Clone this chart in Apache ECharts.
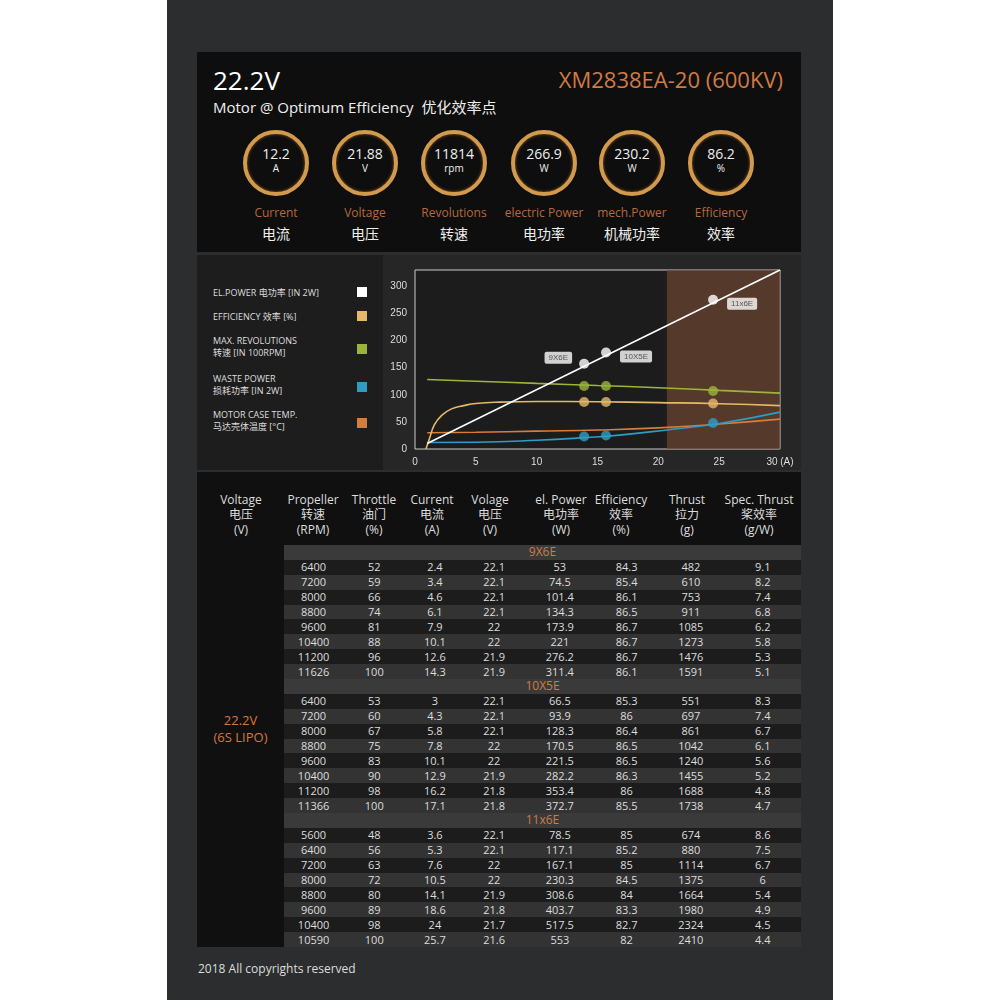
<!DOCTYPE html>
<html><head><meta charset="utf-8">
<script src="https://cdn.jsdelivr.net/npm/echarts@6/dist/echarts.min.js"></script>
<style>
body{margin:0;background:#fff;font-family:"Open Sans","Noto Sans CJK SC",sans-serif;}
#page{position:absolute;left:167px;top:0;width:666px;height:1000px;background:#2b2d2e;}
.box{position:absolute;}
#head{left:197px;top:52px;width:604px;height:200px;background:#0e0e0e;}
#legendBox{left:197px;top:255px;width:186px;height:215px;background:#1d1d1d;}
#chart{left:383px;top:255px;width:418px;height:215px;}
#tbl{left:197px;top:472px;width:604px;height:475px;background:#101010;}
.ring{position:absolute;width:58px;height:58px;border-radius:50%;border:4px solid #d39a4e;box-shadow:0 0 3px #8a5a20 inset;color:#eee;text-align:center;}
.ring .v{font-size:14px;margin-top:12px;line-height:16px}
.ring .u{font-size:10px;line-height:13px}
.lab{position:absolute;width:100px;text-align:center;}
.lab .e{color:#b8683c;font-size:12px}
.lab .c{color:#eee;font-size:14px;margin-top:2px}
.lg{position:absolute;left:16px;color:#ddd;font-size:9px;line-height:12px}
.sq{position:absolute;left:160px;width:10px;height:10px}
table{border-collapse:collapse;position:absolute;left:87px;top:73px;width:517px;font-size:11px;color:#ddd;}
td{text-align:center;height:14.9px;padding:0;line-height:14px}
.hd{position:absolute;top:20px;color:#ddd;font-size:12px;text-align:center;line-height:15px;width:80px}
</style></head><body>
<div id="page"></div>
<div class="box" id="head">
 <div style="position:absolute;left:16px;top:10px;color:#fff;font-size:26px">22.2V</div>
 <div style="position:absolute;left:16px;top:44px;color:#eee;font-size:15px">Motor @ Optimum Efficiency&nbsp; 优化效率点</div>
 <div style="position:absolute;right:18px;top:12px;color:#d07a45;font-size:22px">XM2838EA-20 (600KV)</div>
 <div id="rings"></div>
</div>
<div class="box" id="legendBox"></div>
<div class="box" id="chart"></div>
<div class="box" id="tbl">
 <div id="hdrs"></div>
 <div style="position:absolute;left:0;width:87px;top:240px;text-align:center;color:#d07a45;font-size:13px;line-height:17px">22.2V<br>(6S LIPO)</div>
 <table id="t"></table>
</div>
<div style="position:absolute;left:198px;top:960px;color:#ddd;font-size:12px">2018 All copyrights reserved</div>
<script>
// header gauges
var gaugeValues = ['12.2','21.88','11814','266.9','230.2','86.2'];
var gaugeUnits = ['A','V','rpm','W','W','%'];
var gaugeNames = ['Current','Voltage','Revolutions','electric Power','mech.Power','Efficiency'];
var gaugeNamesCn = ['电流','电压','转速','电功率','机械功率','效率'];

// chart legend
var legendNames = ['EL.POWER 电功率 [IN 2W]','EFFICIENCY 效率 [%]','MAX. REVOLUTIONS<br>转速 [IN 100RPM]','WASTE POWER<br>损耗功率 [IN 2W]','MOTOR CASE TEMP.<br>马达壳体温度 [°C]'];
var colors = ['#ffffff','#e6b96a','#9bb53a','#2f9cc3','#d97c3a'];

// curves, x = current (A)
var powerLine = [[1,10],[30,330]];
var effLine = [[0.9,0],[1.2,20],[1.6,45],[2.2,62],[3,74],[4,80],[5,84],[7,86.5],[10,87.5],[15,87],[20,85.5],[25,83.5],[30,80]];
var revLine = [[1,128],[5,125],[10,121],[15,117],[20,113],[25,108],[30,103]];
var wasteLine = [[1,12],[5,12.5],[10,16],[14,21],[17,26],[21,36],[25,47],[30,68]];
var tempLine = [[1,30],[5,31],[10,33],[15,35],[20,39],[25,46],[30,55]];
var propNames = ['9X6E','10X5E','11x6E'];
var propCurrent = [13.9,15.7,24.5];
var propPower = [157,178,275];
var propEff = [86.5,86.5,84];
var propRev = [116,116,107];
var propWaste = [23,25,48];

// table
var tblHeaders = ['Voltage<br>电压<br>(V)','Propeller<br>转速<br>(RPM)','Throttle<br>油门<br>(%)','Current<br>电流<br>(A)','Volage<br>电压<br>(V)','el. Power<br>电功率<br>(W)','Efficiency<br>效率<br>(%)','Thrust<br>拉力<br>(g)','Spec. Thrust<br>桨效率<br>(g/W)'];
var hdrX = [44,116,177,235,293,364,424,490,562];
var rows9x6 = [
 [6400,52,2.4,22.1,53,84.3,482,9.1],[7200,59,3.4,22.1,74.5,85.4,610,8.2],[8000,66,4.6,22.1,101.4,86.1,753,7.4],
 [8800,74,6.1,22.1,134.3,86.5,911,6.8],[9600,81,7.9,22,173.9,86.7,1085,6.2],[10400,88,10.1,22,221,86.7,1273,5.8],
 [11200,96,12.6,21.9,276.2,86.7,1476,5.3],[11626,100,14.3,21.9,311.4,86.1,1591,5.1]];
var rows10x5 = [
 [6400,53,3,22.1,66.5,85.3,551,8.3],[7200,60,4.3,22.1,93.9,86,697,7.4],[8000,67,5.8,22.1,128.3,86.4,861,6.7],
 [8800,75,7.8,22,170.5,86.5,1042,6.1],[9600,83,10.1,22,221.5,86.5,1240,5.6],[10400,90,12.9,21.9,282.2,86.3,1455,5.2],
 [11200,98,16.2,21.8,353.4,86,1688,4.8],[11366,100,17.1,21.8,372.7,85.5,1738,4.7]];
var rows11x6 = [
 [5600,48,3.6,22.1,78.5,85,674,8.6],[6400,56,5.3,22.1,117.1,85.2,880,7.5],[7200,63,7.6,22,167.1,85,1114,6.7],
 [8000,72,10.5,22,230.3,84.5,1375,6],[8800,80,14.1,21.9,308.6,84,1664,5.4],[9600,89,18.6,21.8,403.7,83.3,1980,4.9],
 [10400,98,24,21.7,517.5,82.7,2324,4.5],[10590,100,25.7,21.6,553,82,2410,4.4]];

var ringCx = [79,168,257,347,435,524];
var h = '';
for (var i = 0; i < 6; i++) {
  h += '<div class="ring" style="left:' + (ringCx[i]-33) + 'px;top:78px"><div class="v">' + gaugeValues[i] + '</div><div class="u">' + gaugeUnits[i] + '</div></div>';
  h += '<div class="lab" style="left:' + (ringCx[i]-50) + 'px;top:152px"><div class="e">' + gaugeNames[i] + '</div><div class="c">' + gaugeNamesCn[i] + '</div></div>';
}
document.getElementById('rings').innerHTML = h;

var lgY = [32,56,80,118,154];
h = '';
for (var i = 0; i < 5; i++) {
  h += '<div class="lg" style="top:' + lgY[i] + 'px">' + legendNames[i] + '</div>';
  h += '<div class="sq" style="top:' + (legendNames[i].indexOf('<br>') > 0 ? lgY[i]+9 : lgY[i]) + 'px;background:' + colors[i] + '"></div>';
}
document.getElementById('legendBox').innerHTML = h;

h = '';
for (var i = 0; i < tblHeaders.length; i++) {
  h += '<div class="hd" style="left:' + (hdrX[i]-40) + 'px">' + tblHeaders[i] + '</div>';
}
document.getElementById('hdrs').innerHTML = h;

var groups = [rows9x6, rows10x5, rows11x6];
h = '';
for (var g = 0; g < 3; g++) {
  h += '<tr style="background:#3a3a3a"><td colspan="8" style="color:#d07a45;font-size:12px">' + propNames[g] + '</td></tr>';
  for (var r = 0; r < groups[g].length; r++) {
    h += '<tr style="background:' + (r % 2 ? '#333' : '#1c1c1c') + '">';
    for (var c = 0; c < 8; c++) h += '<td>' + groups[g][r][c] + '</td>';
    h += '</tr>';
  }
}
document.getElementById('t').innerHTML = h;
// column widths to match header positions
var colW = [58,61,58,58,71,60,66,75];
var first = document.querySelector('#t tr:nth-child(2)').children;
for (var c = 0; c < 8; c++) first[c].style.width = colW[c] + 'px';

var chart = echarts.init(document.getElementById('chart'));
function pts(ys, color, labels) {
  return propCurrent.map(function (x, i) {
    var p = {value: [x, ys[i]], itemStyle: {color: color}};
    if (labels) p.label = {show: true, formatter: labels[i], position: i === 0 ? 'left' : 'right',
      offset: i === 0 ? [-2, -6] : [4, 4], backgroundColor: '#fff', color: '#333', fontSize: 8, padding: [2, 4], borderRadius: 2};
    return p;
  });
}
function line(data, color) {
  return {type: 'line', data: data, smooth: true, showSymbol: false, lineStyle: {color: color, width: 1.6}, z: 2};
}
function dots(data) {
  return {type: 'scatter', data: data, symbolSize: 10, z: 3};
}
chart.setOption({
  backgroundColor: '#262626',
  animation: false,
  grid: {left: 32, right: 21, top: 15, bottom: 21, show: true, backgroundColor: '#1c1c1c', borderColor: '#ccc', borderWidth: 1},
  xAxis: {type: 'value', min: 0, max: 30, interval: 5, axisLine: {show: false}, axisTick: {show: false}, splitLine: {show: false},
    axisLabel: {color: '#ddd', fontSize: 10, formatter: function (v) { return v === 30 ? '30 (A)' : v; }}},
  yAxis: {type: 'value', min: 0, max: 330, interval: 50, axisLine: {show: false}, axisTick: {show: false}, splitLine: {show: false},
    axisLabel: {color: '#ddd', fontSize: 10, showMaxLabel: false}},
  series: [
    {type: 'line', data: [], markArea: {silent: true, itemStyle: {color: 'rgba(110,70,50,0.7)'}, data: [[{xAxis: 20.7}, {xAxis: 30}]]}},
    line(tempLine, colors[4]),
    line(wasteLine, colors[3]),
    line(effLine, colors[1]),
    line(revLine, colors[2]),
    {type: 'line', data: powerLine, showSymbol: false, lineStyle: {color: '#fff', width: 1.6}, z: 2},
    dots(pts(propWaste, colors[3])),
    dots(pts(propEff, colors[1])),
    dots(pts(propRev, colors[2])),
    dots(pts(propPower, '#fff', propNames))
  ]
});
</script>
</body></html>
